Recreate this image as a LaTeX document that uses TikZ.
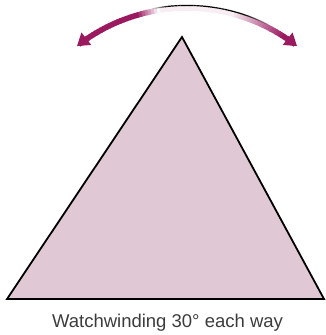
\documentclass[tikz,border=0pt]{standalone}
\usepackage{fontspec}
\setmainfont{Liberation Sans}
\usetikzlibrary{arrows.meta}
\definecolor{mag}{RGB}{155,25,95}
\definecolor{trifill}{RGB}{224,200,212}
\definecolor{txt}{RGB}{60,60,60}
\tikzset{
  tri/.style={fill=trifill, draw=black, line width=1.8pt, line join=miter},
  shaft/.style={line width=5.5pt},
  tipseg/.style={mag, line width=5.5pt, -{Triangle[length=12pt,width=15pt]}},
  lbl/.style={text=txt, font=\fontsize{18.5}{20}\selectfont, anchor=base}
}
\begin{document}
\begin{tikzpicture}[x=1pt,y=1pt]
\useasboundingbox (0,0) rectangle (326,335);
\coordinate (A) at (182,298);
\coordinate (L) at (7,36);
\coordinate (R) at (324,36);
\coordinate (C) at (187,149);
\draw[tri] (A) -- (L) -- (R) -- cycle;
% gradient shaft
\foreach \a in {55,...,125}{
  \pgfmathsetmacro\p{\a>=107 ? 100 : (\a>=100 ? (\a-100)/7*100 : (\a>=76 ? 8 : (\a>=58 ? 8+(76-\a)/18*92 : 100)))}
  \draw[shaft, color=mag!\p!white] ([shift={(\a:178)}]C) arc[start angle=\a, end angle=\a-1.3, radius=178];
}
% dark top edge
\foreach \a in {63,...,102}{
  \pgfmathsetmacro\o{\a>=96 ? (102-\a)/6 : (\a>=72 ? 1 : (\a-63)/9)}
  \draw[line width=1.2pt, black, opacity=\o] ([shift={(\a:180.6)}]C) arc[start angle=\a, end angle=\a-1, radius=180.6];
}
% arrow tips
\draw[tipseg] ([shift={(124:178)}]C) arc[start angle=124, end angle=128.2, radius=178];
\draw[tipseg] ([shift={(56:178)}]C) arc[start angle=56, end angle=51.8, radius=178];
\node[lbl] (caption) at (167.5,7) {Watchwinding 30° each way};
\end{tikzpicture}
\end{document}
